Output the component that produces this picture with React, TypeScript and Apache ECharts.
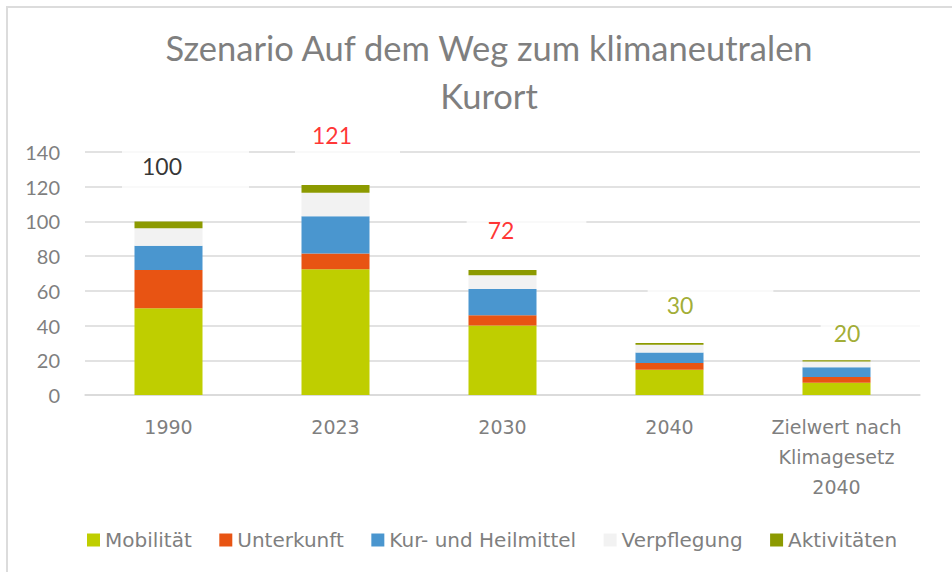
import React, { useEffect, useRef } from "react";
import * as echarts from "echarts";

const categories = ["1990", "2023", "2030", "2040", "Zielwert nach\nKlimagesetz\n2040"];
const mobilitaet = [50, 72.5, 40, 14.5, 7];
const unterkunft = [22, 9, 6, 4, 3.3];
const kurHeilmittel = [14, 21.5, 15, 6, 5.7];
const verpflegung = [10, 13.5, 8, 4.5, 3.3];
const aktivitaeten = [4, 4.5, 3, 1, 0.7];
const totals = [100, 121, 72, 30, 20];
const yTicks = { min: 0, max: 140, interval: 20 };

const seriesNames = ["Mobilität", "Unterkunft", "Kur- und Heilmittel", "Verpflegung", "Aktivitäten"];
const seriesColors = ["#bfce00", "#e85413", "#4a96cf", "#f2f2f2", "#8c9a00"];

// label styling (colour, box offset, padding [t, r, b, l])
const totalLabelStyles = [
  { color: "#000000", offset: [17, -55], padding: [10, 67, 21, 20] },
  { color: "#ff0000", offset: [12, -50], padding: [9, 48, 19, 17] },
  { color: "#ff0000", offset: [24, -40], padding: [6, 72, 6, 21] },
  { color: "#8a9800", offset: [41, -38], padding: [14, 80, 0, 19] },
  { color: "#8a9800", offset: [39, -27], padding: [6, 70, 5, 13] },
];

const FONT = "Lato";
const WIDE_FONT = "DejaVu Sans";
const GRAY = "#7f7f7f";

export default function App() {
  const ref = useRef<HTMLDivElement>(null);
  useEffect(() => {
    document.body.style.margin = "0";
    const chart = echarts.init(ref.current!, null, { renderer: "svg" });
    const valueLists = [mobilitaet, unterkunft, kurHeilmittel, verpflegung, aktivitaeten];
    const barSeries = valueLists.map((vals, i) => ({
      name: seriesNames[i],
      type: "bar",
      stack: "total",
      barWidth: 68,
      itemStyle: { color: seriesColors[i] },
      data: vals,
    }));
    const labelSeries = {
      name: "Summe",
      type: "scatter",
      symbolSize: 1,
      itemStyle: { color: "rgba(0,0,0,0)" },
      z: 10,
      data: totals.map((t, i) => ({
        value: t,
        label: {
          show: true,
          position: "inside",
          formatter: String(t),
          color: totalLabelStyles[i].color,
          offset: totalLabelStyles[i].offset,
          padding: totalLabelStyles[i].padding,
          backgroundColor: "#ffffff",
          fontFamily: FONT,
          fontSize: 23,
          lineHeight: 24,
        },
      })),
    };
    chart.setOption({
      animation: false,
      backgroundColor: "#ffffff",
      textStyle: { fontFamily: FONT },
      title: {
        text: "Szenario Auf dem Weg zum klimaneutralen\nKurort",
        left: 484,
        textAlign: "center",
        top: 18,
        textStyle: {
          fontFamily: FONT,
          fontSize: 34.5,
          fontWeight: "normal",
          color: GRAY,
          lineHeight: 48,
          align: "center",
        },
      },
      graphic: [
        {
          type: "rect",
          shape: { x: 7, y: 7, width: 1000, height: 1000 },
          style: { fill: "none", stroke: "#dcdcdc", lineWidth: 2 },
          silent: true,
        },
      ],
      legend: {
        data: seriesNames,
        bottom: 17,
        left: 82,
        itemWidth: 13,
        itemHeight: 13,
        itemGap: 27.5,
        icon: "rect",
        textStyle: { fontFamily: WIDE_FONT, fontSize: 20, color: GRAY },
      },
      grid: { left: 85, right: 32, top: 152, bottom: 177 },
      xAxis: {
        type: "category",
        data: categories,
        axisLine: { lineStyle: { color: "#d9d9d9", width: 1.5 } },
        axisTick: { show: false },
        axisLabel: {
          fontFamily: WIDE_FONT,
          fontSize: 19,
          color: GRAY,
          lineHeight: 30,
          margin: 17,
          interval: 0,
        },
      },
      yAxis: {
        type: "value",
        min: yTicks.min,
        max: yTicks.max,
        interval: yTicks.interval,
        axisLine: { show: false },
        axisTick: { show: false },
        splitLine: { lineStyle: { color: "#d9d9d9", width: 1.5 } },
        axisLabel: { fontFamily: FONT, fontSize: 20, color: GRAY, margin: 25 },
      },
      series: [...barSeries, labelSeries],
    });
    return () => chart.dispose();
  }, []);
  return <div ref={ref} style={{ width: 952, height: 572 }} />;
}
